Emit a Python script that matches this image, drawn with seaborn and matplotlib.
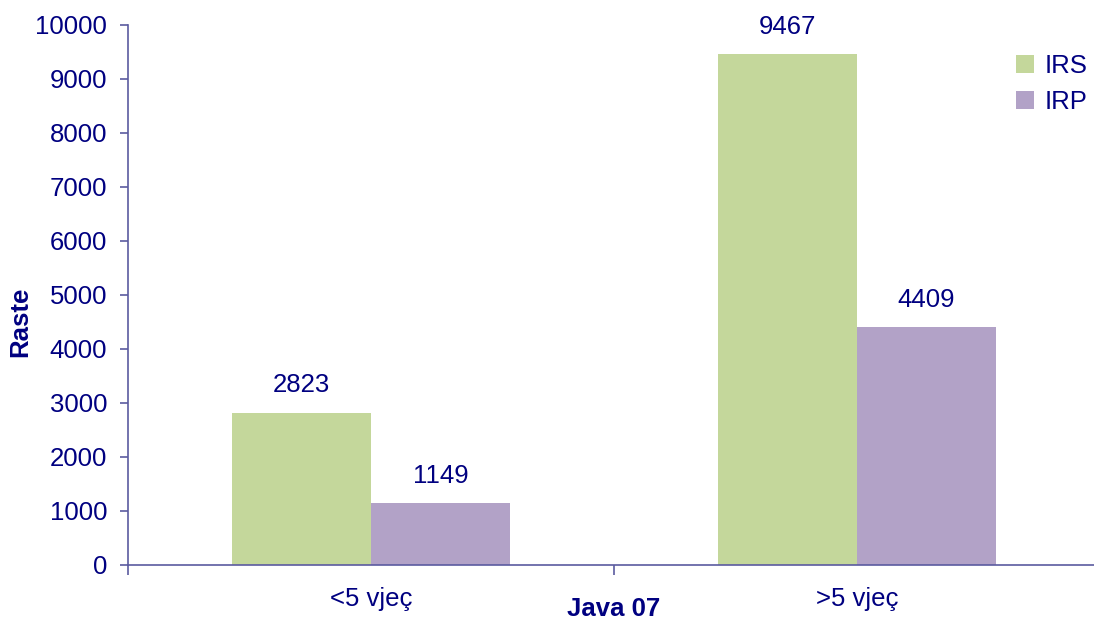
import matplotlib
matplotlib.use("Agg")
import matplotlib.pyplot as plt
import seaborn as sns
import pandas as pd

categories = ["<5 vjeç", ">5 vjeç"]
series_names = ["IRS", "IRP"]
irs_values = [2823, 9467]
irp_values = [1149, 4409]
yticks = [0, 1000, 2000, 3000, 4000, 5000, 6000, 7000, 8000, 9000, 10000]

sns.set_theme(style="white")
plt.rcParams['font.family'] = ['Liberation Sans', 'DejaVu Sans']

navy = "#000080"
axis_col = "#5B5BA0"
colors = ["#C4D79B", "#B2A2C7"]
fs = 18.5

df = pd.DataFrame({
    "cat": categories * 2,
    "series": [series_names[0]] * 2 + [series_names[1]] * 2,
    "value": irs_values + irp_values,
})

fig = plt.figure(figsize=(10.94, 6.23), dpi=100)
ax = fig.add_axes([128/1094, (623-565)/623, 972/1094, 540/623])
sns.barplot(data=df, x="cat", y="value", hue="series", palette=colors,
            width=0.572, gap=0, saturation=1, ax=ax, edgecolor="none")

for cont in ax.containers:
    ax.bar_label(cont, labels=[f"{int(v.get_height())}" for v in cont],
                 padding=11, fontsize=fs, color=navy)

ax.set_xlim(-0.5, 1.5)
ax.set_ylim(0, 10000)
ax.set_yticks(yticks)
ax.set_yticklabels([str(t) for t in yticks])
ax.tick_params(axis="y", colors=axis_col, labelcolor=navy, labelsize=fs,
               length=6, width=1.2, direction="out", left=True, pad=9)
ax.set_xticks([0, 1])
ax.set_xticklabels(categories)
ax.tick_params(axis="x", labelcolor=navy, labelsize=fs, length=0, pad=16)
ax.set_xticks([-0.5, 0.5, 1.5], minor=True)
ax.tick_params(axis="x", which="minor", colors=axis_col, length=7, width=1.2,
               direction="out", bottom=True)

for s in ["top", "right"]:
    ax.spines[s].set_visible(False)
for s in ["left", "bottom"]:
    ax.spines[s].set_color(axis_col)
    ax.spines[s].set_linewidth(1.2)

ax.set_ylabel("Raste", fontsize=fs, fontweight="bold", color=navy)
ax.set_xlabel("Java 07", fontsize=fs, fontweight="bold", color=navy)
ax.yaxis.set_label_coords(-96/972, 0.45)
ax.xaxis.label.set_verticalalignment("center")
ax.xaxis.set_label_coords(0.5, -44/540)

leg = ax.legend(loc="upper left", bbox_to_anchor=(878/972, 0.965),
                frameon=False, fontsize=fs, handlelength=0.7, handleheight=0.7,
                handletextpad=0.4, labelspacing=0.45, borderaxespad=0)
for t in leg.get_texts():
    t.set_color(navy)

fig.savefig("out.png", dpi=100)
